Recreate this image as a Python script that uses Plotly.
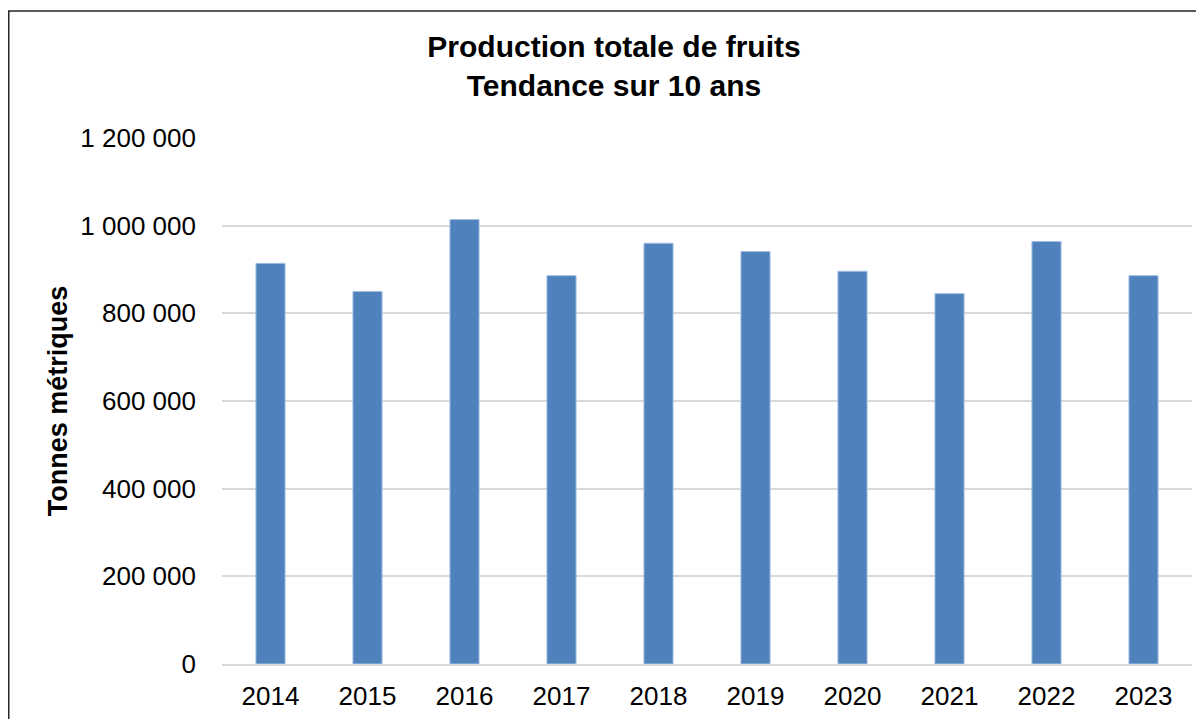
import plotly.graph_objects as go

years = ["2014", "2015", "2016", "2017", "2018", "2019", "2020", "2021", "2022", "2023"]
production = [914000, 850000, 1014000, 886000, 960000, 941000, 896000, 845000, 964000, 886000]
y_ticks = [0, 200000, 400000, 600000, 800000, 1000000, 1200000]

FONT = "Liberation Sans, Arial, sans-serif"

fig = go.Figure(
    go.Bar(
        x=years,
        y=production,
        marker=dict(color="#4F81BD", line=dict(color="#A3BFE2", width=1)),
    )
)

# the page body has an 8px margin, so figure coords = screen coords - 8
W, H = 1196, 711
L, R, T, B = 214, 12, 130, 54.5
pw = W - L - R
ph = H - T - B

fig.update_layout(
    width=W,
    height=H,
    margin=dict(l=L, r=R, t=T, b=B, autoexpand=False),
    paper_bgcolor="white",
    plot_bgcolor="white",
    separators=", ",
    bargap=0.7,
    showlegend=False,
    font=dict(family=FONT, color="#000000"),
    title=dict(
        text="<b>Production totale de fruits<br>Tendance sur 10 ans</b>",
        x=606 / W,
        xanchor="center",
        xref="container",
        y=1 - 49 / H,
        yanchor="middle",
        yref="container",
        font=dict(size=30, family=FONT, color="#000000"),
    ),
    xaxis=dict(
        type="category",
        showgrid=False,
        showline=True,
        linecolor="#D9D9D9",
        linewidth=1.5,
        ticks="",
        tickfont=dict(size=26, family=FONT, color="#000000"),
        ticklabelstandoff=8,
    ),
    yaxis=dict(
        range=[0, 1200000],
        tickvals=y_ticks,
        tickformat=",d",
        showgrid=True,
        gridcolor="#D9D9D9",
        gridwidth=1.5,
        zeroline=False,
        showline=False,
        ticks="",
        tickfont=dict(size=26, family=FONT, color="#000000"),
        ticklabelstandoff=25,
        title=dict(
            text="<b>Tonnes métriques</b>",
            font=dict(size=27, family=FONT, color="#000000"),
            standoff=4,
        ),
    ),
    shapes=[
        dict(
            type="rect",
            xref="paper",
            yref="paper",
            x0=(0.75 - L) / pw,
            x1=(1214 - L) / pw,
            y0=(T + ph - 730) / ph,
            y1=(T + ph - 3) / ph,
            line=dict(color="#262626", width=1.5),
            fillcolor="rgba(0,0,0,0)",
            layer="above",
        )
    ],
)

fig.write_html("out.html")
